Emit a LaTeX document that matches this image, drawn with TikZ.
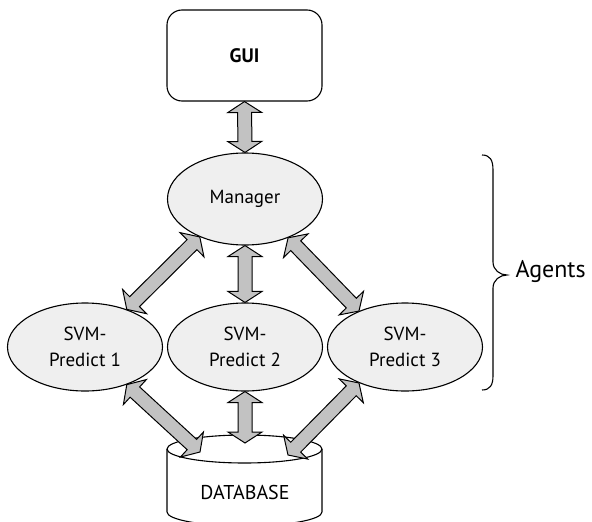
\documentclass[tikz,border=0pt]{standalone}
\usepackage{fontspec}
\setmainfont{PT Sans}
\usetikzlibrary{shapes.geometric,calc}
\definecolor{elfill}{HTML}{EFEFEF}
\definecolor{arfill}{HTML}{C2C2C2}
\newcommand\hl{11pt}
\newcommand\hw{17pt}
\newcommand\sw{7pt}
\newcommand\dbl[2]{%
  \draw[arr] let \p1=(#1), \p2=(#2), \n1={atan2(\y2-\y1,\x2-\x1)} in
  (\p1) -- ($(\p1)+(\n1:\hl)+(\n1+90:\hw)$) -- ($(\p1)+(\n1:\hl)+(\n1+90:\sw)$)
  -- ($(\p2)+(\n1+180:\hl)+(\n1+90:\sw)$) -- ($(\p2)+(\n1+180:\hl)+(\n1+90:\hw)$)
  -- (\p2) -- ($(\p2)+(\n1+180:\hl)+(\n1-90:\hw)$) -- ($(\p2)+(\n1+180:\hl)+(\n1-90:\sw)$)
  -- ($(\p1)+(\n1:\hl)+(\n1-90:\sw)$) -- ($(\p1)+(\n1:\hl)+(\n1-90:\hw)$) -- cycle;}
\tikzset{
  arr/.style={draw=black, fill=arfill, line width=1pt, line join=miter},
  agent/.style={ellipse, draw=black, fill=elfill, line width=1.1pt, inner sep=0pt,
    minimum width=155pt, minimum height=88pt, align=center, font=\fontsize{19}{26}\selectfont},
  guibox/.style={rectangle, rounded corners=15pt, draw=black, fill=white, line width=1.1pt,
    minimum width=155pt, minimum height=91pt, font=\bfseries\fontsize{19.5}{22}\selectfont},
}
\begin{document}
\begin{tikzpicture}[x=1pt,y=-1pt]
\useasboundingbox (0,0) rectangle (592,522);
% database cylinder
\draw[fill=white, line width=1.1pt] (167,449) -- (167,512)
  arc[start angle=180, end angle=360, x radius=77.5pt, y radius=14pt] -- (322,449);
\draw[fill=white, line width=1.1pt] (244.5,449) ellipse [x radius=77.5pt, y radius=14pt];
\node[font=\fontsize{20}{22}\selectfont] (dbtext) at (245,492) {DATABASE};
\coordinate (dbl) at (200,452);
\coordinate (dbm) at (245,443);
\coordinate (dbr) at (288,455);
% nodes
\node[guibox] (gui) at (244.5,55.5) {GUI};
\node[agent, minimum height=92pt] (man) at (245,199) {Manager};
\node[agent] (s1) at (85,347) {SVM-\\Predict 1};
\node[agent] (s2) at (245,347) {SVM-\\Predict 2};
\node[agent] (s3) at (405,347) {SVM-\\Predict 3};
% arrows
\dbl{gui.south}{man.north}
\dbl{man.south}{s2.north}
\dbl{man.220}{s1.42}
\dbl{man.318}{s3.142}
\dbl{s1.-42}{dbl}
\dbl{s2.south}{dbm}
\dbl{s3.218}{dbr}
% brace
\draw[line width=1.1pt] (482,155) .. controls (490,155) and (493,160) .. (493,170)
  -- (493,262) .. controls (493,270) and (500,275) .. (507,275)
  .. controls (500,275) and (493,280) .. (493,288)
  -- (493,376) .. controls (493,385) and (490,390) .. (482,390);
\node[font=\fontsize{24}{28}\selectfont, anchor=west] (agents) at (512,272) {Agents};
\end{tikzpicture}
\end{document}
